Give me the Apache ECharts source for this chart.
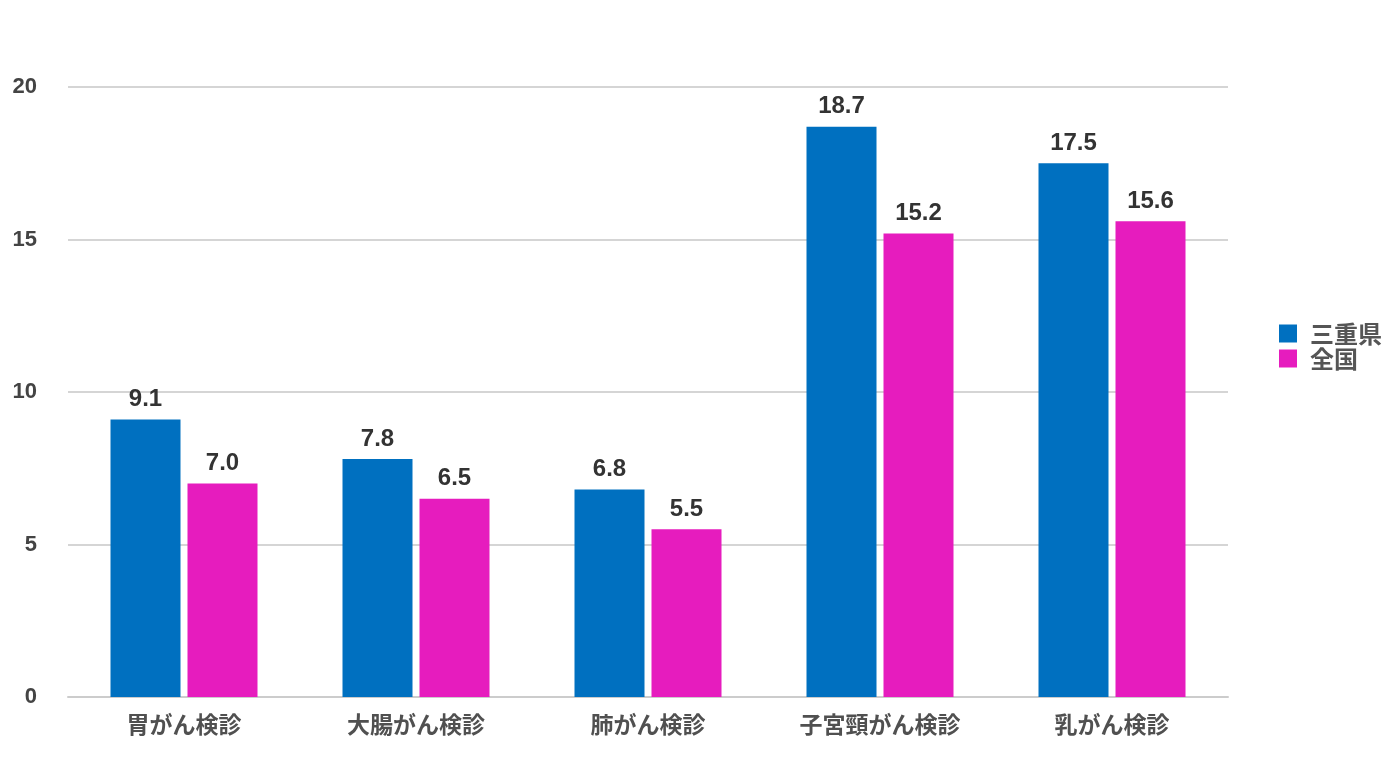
<!DOCTYPE html>
<html><head><meta charset="utf-8">
<script src="https://cdn.jsdelivr.net/npm/echarts@6/dist/echarts.min.js"></script>
<style>html,body{margin:0;padding:0;background:#fff}#c{width:1400px;height:757px}</style>
</head><body><div id="c"></div>
<script>
const categories = ['胃がん検診','大腸がん検診','肺がん検診','子宮頸がん検診','乳がん検診'];
const mie = [9.1, 7.8, 6.8, 18.7, 17.5];
const national = [7.0, 6.5, 5.5, 15.2, 15.6];
const seriesNames = ['三重県','全国'];
const font = '"Liberation Sans", Arial, "Noto Sans CJK JP", sans-serif';
const cjk = '"Noto Sans CJK JP", sans-serif';
const chart = echarts.init(document.getElementById('c'));
const lbl = {show:true, position:'top', formatter: p => p.value.toFixed(1), fontSize:24, fontWeight:'bold', color:'#333', fontFamily:font, distance:8};
chart.setOption({
  animation:false,
  grid:{left:68, right:172, top:87, bottom:60, containLabel:false},
  legend:{orient:'vertical', left:1274, top:316, itemWidth:18, itemHeight:18, itemGap:0, icon:'rect',
    textStyle:{fontSize:24, fontWeight:'bold', color:'#555', fontFamily:cjk, lineHeight:25, padding:[0,0,0,8]},
    data:seriesNames},
  xAxis:{type:'category', data:categories, axisTick:{show:false},
    axisLine:{lineStyle:{color:'#ccc', width:2}},
    axisLabel:{fontSize:23, fontWeight:'bold', color:'#505050', fontFamily:cjk, margin:16}},
  yAxis:{type:'value', min:0, max:20, interval:5,
    axisLine:{show:false}, axisTick:{show:false},
    splitLine:{lineStyle:{color:'#d5d5d5', width:2}},
    axisLabel:{fontSize:22, fontWeight:'bold', color:'#444', fontFamily:font, margin:31}},
  series:[
    {name:seriesNames[0], type:'bar', data:mie, barWidth:70, barGap:'10%', itemStyle:{color:'#0070c0'}, label:lbl},
    {name:seriesNames[1], type:'bar', data:national, barWidth:70, itemStyle:{color:'#e61cbe'}, label:lbl}
  ]
});
</script></body></html>
